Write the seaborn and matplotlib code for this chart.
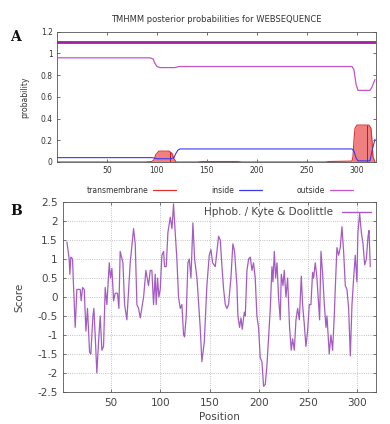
import numpy as np
import pandas as pd
import matplotlib
matplotlib.use('Agg')
import matplotlib.pyplot as plt
import seaborn as sns
from matplotlib.lines import Line2D
from matplotlib.ticker import FuncFormatter

sns.set_theme(style='white')
plt.rcParams['font.family'] = ['DejaVu Sans']

# ---- panel A: TMHMM posterior probabilities ----
seq_len = 318
best_pred = 1.11

out_pos = [0, 93, 96, 98, 100, 103, 118, 122, 295, 297, 299, 301, 313, 315, 318]
out_val = [0.96, 0.96, 0.95, 0.91, 0.88, 0.87, 0.87, 0.88, 0.88, 0.85, 0.72, 0.66, 0.66, 0.69, 0.76]

in_pos = [0, 95, 98, 100, 114, 117, 119, 121, 123, 295, 297, 299, 301, 313, 315, 318]
in_val = [0.04, 0.04, 0.035, 0.03, 0.03, 0.04, 0.08, 0.11, 0.12, 0.12, 0.10, 0.04, 0.01, 0.01, 0.10, 0.21]

tm_pos = [0, 88, 95, 97, 99, 102, 112, 115, 117, 119, 140, 145, 180, 185,
          268, 272, 295, 296, 297, 298, 300, 312, 314, 315, 316, 318]
tm_val = [0, 0, 0.004, 0.02, 0.07, 0.10, 0.10, 0.08, 0.03, 0, 0, 0.004, 0.004, 0,
          0, 0.004, 0.008, 0.05, 0.2, 0.31, 0.34, 0.34, 0.31, 0.2, 0.05, 0]
tm_center = [113, 310]

# ---- panel B: Kyte & Doolittle hydrophobicity ----
kd_pos = [5, 7.3, 8, 9, 10.7, 11.7, 13.4, 15.1, 18.5, 19.5, 20.9, 22.6, 24.3, 25.9, 28, 29.3,
          31.4, 32.4, 33.7, 35.4, 37.1, 38.8, 40.5, 42.2, 43.9, 45.6, 48, 49.3, 50.7, 52.4,
          54.1, 56.4, 57.8, 59.1, 61.9, 63.6, 65.9, 69.3, 72.7, 74.4, 76.1, 77.8, 79.5, 82.9,
          85.2, 87.9, 89.6, 91.3, 93, 94.7, 95.7, 97.1, 98.4, 99.8, 101.5, 103.2, 104.2, 105.9,
          107.6, 110, 111.7, 113.3, 115, 116.7, 118.4, 120.1, 121.8, 123.5, 124.5, 126.2,
          127.9, 129.3, 131, 133, 134.7, 137.1, 140.4, 142.1, 144.5, 147.2, 149.6, 151.3, 153,
          155.7, 157.4, 159.1, 160.8, 162.5, 164.2, 165.9, 167.5, 169.2, 171.6, 173.6, 175.3,
          177.7, 178.7, 180.4, 181.8, 183.1, 185.2, 186.2, 187.9, 189.6, 191.3, 193, 194.6,
          196.3, 198, 199.7, 201.4, 203.1, 204.8, 206.5, 208.2, 210.2, 211.6, 213.3, 214.3,
          215.7, 217, 218.4, 220, 221.7, 222.8, 224.5, 225.8, 227.5, 229.2, 231.2, 232.9, 234.3,
          236, 237.7, 239.4, 241.1, 243.1, 244.4, 246.1, 247.8, 249.5, 251.2, 252.9, 254.6,
          255.6, 257.3, 259, 260.7, 261.7, 263.1, 264.8, 266.5, 268.2, 269.2, 271.5, 273.2,
          274.9, 276.6, 277.6, 279.3, 281, 282.7, 284.4, 286.1, 287.8, 289.5, 291.2, 292.9,
          294.6, 296.3, 297.9, 299.6, 300.6, 302.4, 304.1, 305.8, 307.5, 309.2, 310.9, 311.9, 313.2]
kd_val = [1.45, 1.0, 0.6, 1.05, 1.0, 0.3, -0.8, 0.2, 0.2, -0.1, 0.25, 0.2, -0.9, -0.3, -1.45, -1.5,
          -0.5, -0.3, -1.0, -2.0, -1.2, -0.5, -1.4, -1.3, 0.25, -0.2, 0.9, 0.5, 0.75, -0.1,
          0.1, 0.1, -0.3, 1.2, 0.9, -0.2, -0.6, 0.9, 1.8, 1.4, -0.2, -0.3, -0.55, 0.0,
          0.7, 0.3, 0.7, 0.7, -0.2, 0.6, -0.2, 0.5, 0.0, 0.2, 1.1, 1.2, 0.8, 0.8,
          1.7, 2.1, 1.8, 2.45, 1.7, 1.0, 0.0, -0.3, -0.2, -1.0, -1.05, -0.5,
          0.9, 1.0, 0.5, 1.95, 1.0, 0.5, -0.8, -1.7, -1.2, 0.3, 1.1, 1.25, 0.9,
          0.8, 1.2, 1.6, 1.5, 0.8, 0.2, -0.2, -0.3, -0.2, 0.5, 1.4, 1.2,
          0.3, -0.5, -0.8, -0.55, -0.85, -0.4, -0.5, 0.7, 1.0, 1.05, 0.7, 0.9,
          0.5, -0.5, -0.8, -1.6, -1.7, -2.35, -2.3, -1.8, -0.9, -0.3, 0.8, 0.4,
          1.2, 0.5, 0.9, 0.0, -0.6, 0.6, 0.3, 0.7, 0.0, 0.5, -0.8, -1.4, -1.1,
          -1.4, -0.6, -0.3, -0.6, 0.55, -0.2, -0.7, -1.3, -0.9, -0.2, -0.2, 0.65,
          0.5, 0.9, 0.5, -0.2, -0.6, 1.2, 0.6, -0.2, -0.8, -0.5, -1.5, -1.0,
          -1.4, -0.5, 0.2, 1.3, 1.1, 1.3, 1.85, 1.2, 0.3, 0.2, -0.3, -1.55,
          -0.2, 0.5, 1.1, 0.4, 1.7, 2.2, 1.7, 1.4, 0.85, 1.0, 1.6, 1.75, 0.8]

tm_color = '#e03030'
tm_fill = '#f08080'
in_color = '#3a3af0'
out_color = '#c455c4'
best_color = '#a01ea0'
kd_color = '#a45cc4'
txt = '#333333'

fig = plt.figure(figsize=(3.9, 4.24), dpi=100)
fig.patch.set_facecolor('white')

# ---------- panel A ----------
ax1 = fig.add_axes([0.146, 0.618, 0.818, 0.307])
tm_df = pd.DataFrame({'pos': tm_pos, 'val': tm_val})
ax1.fill_between(tm_df['pos'], 0, tm_df['val'], color=tm_fill, linewidth=0, zorder=1)
sns.lineplot(data=tm_df, x='pos', y='val', ax=ax1, color=tm_color, linewidth=0.8, zorder=2)
ax1.vlines(tm_center, 0, np.interp(tm_center, tm_pos, tm_val), color='#b02020', linewidth=0.7, zorder=3)
sns.lineplot(x=in_pos, y=in_val, ax=ax1, color=in_color, linewidth=0.8, zorder=4)
sns.lineplot(x=out_pos, y=out_val, ax=ax1, color=out_color, linewidth=0.9, zorder=4)
sns.lineplot(x=[0, seq_len + 1], y=[best_pred, best_pred], ax=ax1, color=best_color, linewidth=2.0, zorder=5)

ax1.set_xlim(0, 319)
ax1.set_ylim(0, 1.2)
ax1.set_xticks([50, 100, 150, 200, 250, 300])
ax1.set_yticks([0, 0.2, 0.4, 0.6, 0.8, 1.0, 1.2])
ax1.yaxis.set_major_formatter(FuncFormatter(lambda v, p: '%g' % round(v, 1)))
ax1.tick_params(direction='in', length=2.5, width=0.5, labelsize=5.5, colors=txt,
                top=True, right=True, bottom=True, left=True, pad=3)
for s in ax1.spines.values():
    s.set_linewidth(0.6)
    s.set_color('#555555')
ax1.set_xlabel('')
ax1.set_ylabel('probability', fontsize=5.5, color=txt, labelpad=8)
ax1.set_title('TMHMM posterior probabilities for WEBSEQUENCE', fontsize=6, color=txt, pad=7)

handles = [Line2D([], [], color=tm_color, lw=0.9),
           Line2D([], [], color=in_color, lw=0.9),
           Line2D([], [], color=out_color, lw=0.9)]
ax1.legend(handles, ['transmembrane', 'inside', 'outside'], ncol=3, markerfirst=False,
           frameon=False, fontsize=5.5, loc='upper center', bbox_to_anchor=(0.51, -0.13),
           columnspacing=4.6, handlelength=3.0, handletextpad=0.6, labelcolor=txt)

# ---------- panel B ----------
ax2 = fig.add_axes([0.1615, 0.0755, 0.8026, 0.448])
kd_df = pd.DataFrame({'Position': kd_pos, 'Score': kd_val})
sns.lineplot(data=kd_df, x='Position', y='Score', ax=ax2, color=kd_color, linewidth=0.9)
ax2.set_xlim(1, 319)
ax2.set_ylim(-2.5, 2.5)
ax2.set_xticks([50, 100, 150, 200, 250, 300])
ax2.set_yticks(np.arange(-2.5, 2.51, 0.5))
ax2.yaxis.set_major_formatter(FuncFormatter(lambda v, p: '%g' % round(v, 1)))
ax2.grid(True, linestyle=':', color='#b0b0b0', linewidth=0.6)
ax2.tick_params(direction='in', length=2.5, width=0.5, labelsize=7.5, colors='#444444',
                top=True, right=True, bottom=True, left=True, pad=4)
for s in ax2.spines.values():
    s.set_linewidth(0.6)
    s.set_color('#555555')
ax2.set_xlabel('Position', fontsize=7.5, color='#444444', labelpad=3)
ax2.set_ylabel('Score', fontsize=7.5, color='#444444', labelpad=9)
ax2.legend([Line2D([], [], color=kd_color, lw=1.0)], ['Hphob. / Kyte & Doolittle'],
           loc='upper right', markerfirst=False, frameon=False, fontsize=7.5,
           handlelength=2.8, labelcolor='#444444', borderaxespad=0.1)

fig.text(0.026, 0.903, 'A', fontsize=10, fontweight='bold', family='DejaVu Serif', color='#111111')
fig.text(0.026, 0.493, 'B', fontsize=10, fontweight='bold', family='DejaVu Serif', color='#111111')

fig.savefig('out.png', dpi=100)
